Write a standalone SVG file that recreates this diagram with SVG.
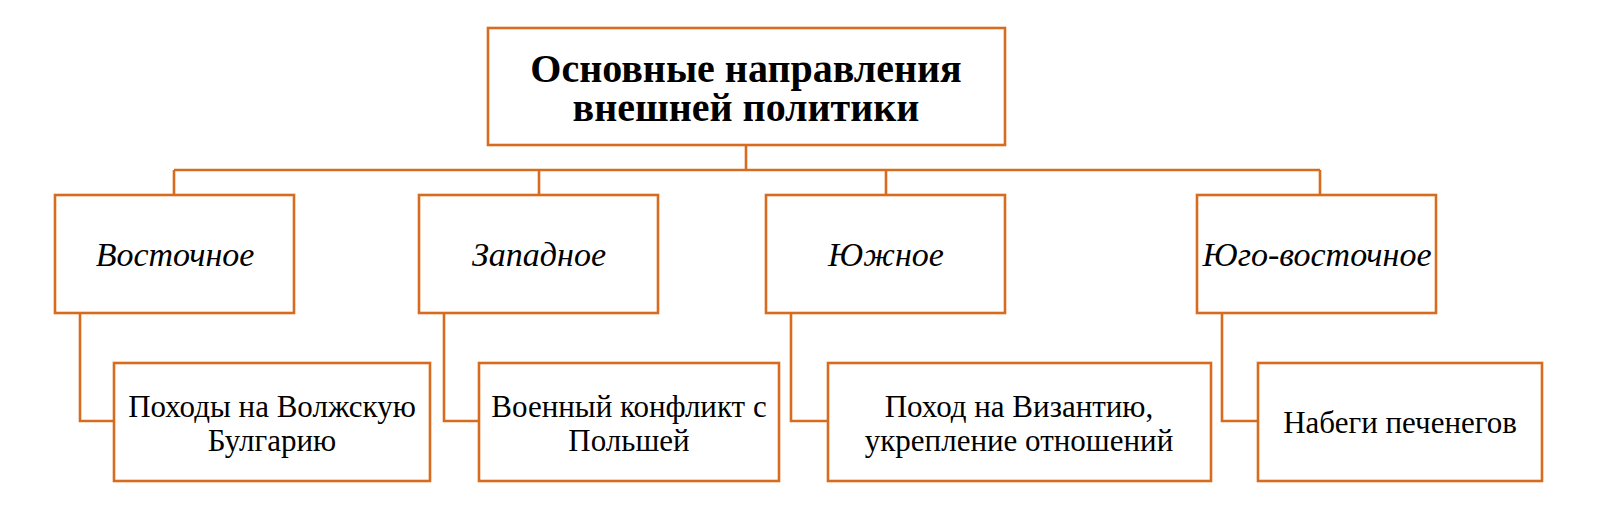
<svg xmlns="http://www.w3.org/2000/svg" width="1600" height="528" viewBox="0 0 1600 528">
<style>
rect{fill:#fff;stroke:#d86c1e;stroke-width:2.6}
#c path{fill:none;stroke:#d86c1e;stroke-width:2.6}
text{font-family:"Liberation Serif",serif;text-anchor:middle;fill:#000}
.t{font-size:40px;font-weight:bold}
.i{font-size:34px;font-style:italic}
.n{font-size:31px}
</style>
<rect width="1600" height="528" style="stroke:none"/>
<g id="c">
<path d="M746 145V170M174 170H1320M174 170V195M539 170V195M886 170V195M1320 170V195"/>
<path d="M80 313V421H114M444 313V421H479M791 313V421H828M1222 313V421H1258"/>
</g>
<g id="root"><rect x="488" y="28" width="517" height="117"/><text class="t" x="746" y="82">Основные направления</text><text class="t" x="746" y="121">внешней политики</text></g>
<g id="east"><rect x="55" y="195" width="239" height="118"/><text class="i" x="175" y="266">Восточное</text></g>
<g id="west"><rect x="419" y="195" width="239" height="118"/><text class="i" x="539" y="266">Западное</text></g>
<g id="south"><rect x="766" y="195" width="239" height="118"/><text class="i" x="886" y="266">Южное</text></g>
<g id="southeast"><rect x="1197" y="195" width="239" height="118"/><text class="i" x="1317" y="266">Юго-восточное</text></g>
<g id="e1"><rect x="114" y="363" width="316" height="118"/><text class="n" x="272" y="417">Походы на Волжскую</text><text class="n" x="272" y="451">Булгарию</text></g>
<g id="w1"><rect x="479" y="363" width="300" height="118"/><text class="n" x="629" y="417">Военный конфликт с</text><text class="n" x="629" y="451">Польшей</text></g>
<g id="s1"><rect x="828" y="363" width="383" height="118"/><text class="n" x="1019" y="417">Поход на Византию,</text><text class="n" x="1019" y="451">укрепление отношений</text></g>
<g id="se1"><rect x="1258" y="363" width="284" height="118"/><text class="n" x="1400" y="433">Набеги печенегов</text></g>
</svg>
